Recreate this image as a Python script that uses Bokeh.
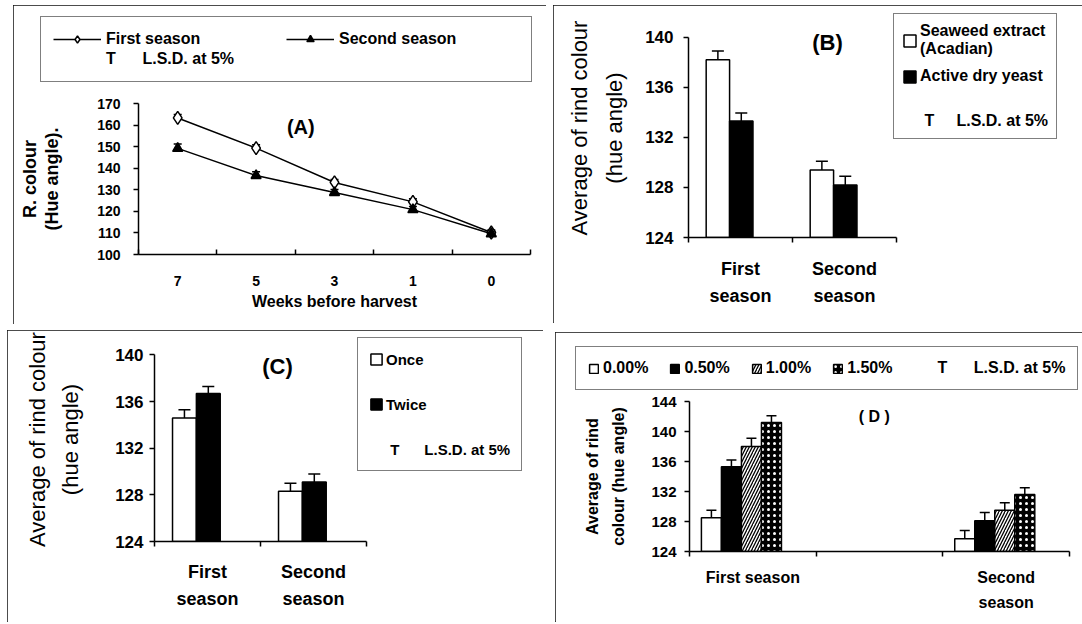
from bokeh.plotting import figure
from bokeh.models import (ColumnDataSource, FixedTicker, Legend, LegendItem, Label,
                          Whisker, TeeHead, Range1d)
from bokeh.embed import file_html
from bokeh.resources import INLINE

FONT = "Liberation Sans"
NB = "\u00a0"

# ---------------- data ----------------
# Panel A
weeks = ["7", "5", "3", "1", "0"]
hue_first_a = [163.3, 149.3, 133.4, 124.4, 110.2]
hue_second_a = [149.2, 136.6, 128.7, 120.8, 109.6]
lsd_first_a = [1.6, 1.6, 1.4, 1.4, 1.2]
lsd_second_a = [2.0, 1.8, 1.4, 1.4, 1.2]
yticks_a = [100, 110, 120, 130, 140, 150, 160, 170]

# Panel B
seasons_bc = ["First\nseason", "Second\nseason"]
seaweed_b = [138.2, 129.4]
yeast_b = [133.3, 128.2]
lsd_seaweed_b = [0.7, 0.7]
lsd_yeast_b = [0.65, 0.7]
yticks_bc = [124, 128, 132, 136, 140]

# Panel C
once_c = [134.6, 128.3]
twice_c = [136.7, 129.1]
lsd_once_c = [0.7, 0.7]
lsd_twice_c = [0.6, 0.7]

# Panel D
slots_d = ["First season", "", "Second\nseason"]
groups_d = ["First season", "Second\nseason"]
conc_d = ["0.00%", "0.50%", "1.00%", "1.50%"]
first_d = [128.5, 135.3, 138.0, 141.2]
second_d = [125.7, 128.1, 129.5, 131.6]
lsd_first_d = [1.0, 0.9, 1.1, 0.9]
lsd_second_d = [1.1, 1.1, 1.0, 0.9]
yticks_d = [124, 128, 132, 136, 140, 144]

LSD_TEXT = "L.S.D. at 5%"

# legend-key renderers live in transparent overlay figures; their single
# point sits outside the overlay's visible range so only the key is seen
OFF = -10


# ---------------- helpers ----------------
def base_fig(w, h, xr, yr, borders, pos):
    l, r, t, b = borders
    p = figure(width=w, height=h, x_range=Range1d(*xr), y_range=Range1d(*yr),
               output_backend="svg", toolbar_location=None,
               min_border_left=l, min_border_right=r,
               min_border_top=t, min_border_bottom=b)
    p.grid.visible = False
    p.outline_line_color = None
    p.background_fill_color = "white"
    p.border_fill_color = "white"
    p.styles = {"position": "absolute", "left": f"{pos[0]}px", "top": f"{pos[1]}px",
                "outline": "1.5px solid #111", "outline-offset": "-1.5px"}
    return p


def overlay_fig(w, h, pos):
    p = figure(width=w, height=h, x_range=Range1d(0, 1), y_range=Range1d(0, 1),
               output_backend="svg", toolbar_location=None,
               x_axis_type=None, y_axis_type=None, min_border=0)
    p.grid.visible = False
    p.outline_line_color = None
    p.background_fill_alpha = 0
    p.border_fill_alpha = 0
    p.styles = {"position": "absolute", "left": f"{pos[0]}px", "top": f"{pos[1]}px"}
    return p


def style_y(p, ticks, size, standoff, label, lab_size, lab_bold, lab_lh, lab_standoff):
    ax = p.yaxis[0]
    ax.ticker = FixedTicker(ticks=ticks)
    ax.bounds = (ticks[0], ticks[-1])
    ax.major_tick_in = 0
    ax.major_tick_out = 5
    ax.major_tick_line_width = 1.5
    ax.minor_tick_line_color = None
    ax.axis_line_width = 1.5
    ax.major_label_text_font = FONT
    ax.major_label_text_font_size = f"{size}px"
    ax.major_label_text_font_style = "bold"
    ax.major_label_text_color = "black"
    ax.major_label_standoff = standoff
    ax.axis_label = label
    ax.axis_label_text_font = FONT
    ax.axis_label_text_font_size = f"{lab_size}px"
    ax.axis_label_text_font_style = "bold" if lab_bold else "normal"
    ax.axis_label_text_line_height = lab_lh
    ax.axis_label_standoff = lab_standoff
    ax.axis_label_text_color = "black"


def style_x(p, labels, size, lh, standoff, tick_in, tick_out, title=None, title_size=16, title_standoff=4):
    ax = p.xaxis[0]
    n = len(labels)
    ax.ticker = FixedTicker(ticks=list(range(n)), minor_ticks=[i - 0.5 for i in range(n + 1)])
    ax.major_label_overrides = {i: lab for i, lab in enumerate(labels)}
    ax.major_tick_line_color = None
    ax.major_tick_in = 0
    ax.major_tick_out = 0
    ax.minor_tick_in = tick_in
    ax.minor_tick_out = tick_out
    ax.minor_tick_line_width = 1.5
    ax.axis_line_width = 1.5
    ax.major_label_text_font = FONT
    ax.major_label_text_font_size = f"{size}px"
    ax.major_label_text_font_style = "bold"
    ax.major_label_text_color = "black"
    ax.major_label_text_line_height = lh
    ax.major_label_standoff = standoff
    if title:
        ax.axis_label = title
        ax.axis_label_text_font = FONT
        ax.axis_label_text_font_size = f"{title_size}px"
        ax.axis_label_text_font_style = "bold"
        ax.axis_label_text_color = "black"
        ax.axis_label_standoff = title_standoff


def bar_style(fill, hatch=None, hatch_color="black", hatch_scale=6, hatch_weight=1.5):
    kw = dict(fill_color=fill, line_color="black", line_width=1.5)
    if hatch:
        kw.update(hatch_pattern=hatch, hatch_color=hatch_color,
                  hatch_scale=hatch_scale, hatch_weight=hatch_weight)
    return kw


def add_bars(p, xs, tops, width, bottom, style):
    src = ColumnDataSource(dict(x=xs, top=tops))
    return p.vbar(x="x", top="top", bottom=bottom, width=width, source=src, **style)


def key_bar(p, style):
    return p.vbar(x=[OFF], top=[OFF], bottom=OFF - 1, width=0.1, **style)


def key_line(p, style):
    return p.line(x=[OFF, OFF + 1], y=[OFF, OFF], **style)


def key_marker(p, style):
    return p.scatter(x=[OFF], y=[OFF], **style)


def key_blank(p):
    return p.scatter(x=[OFF], y=[OFF], alpha=0)


def add_lsd(p, xs, tops, lsd, size):
    src = ColumnDataSource(dict(x=xs, lo=tops, hi=[t + d for t, d in zip(tops, lsd)]))
    w = Whisker(base="x", lower="lo", upper="hi", source=src, line_color="black",
                line_width=1.5, level="underlay",
                upper_head=TeeHead(size=size, line_color="black", line_width=1.5),
                lower_head=None)
    p.add_layout(w)


def add_title(p, x, y, text, size):
    p.add_layout(Label(x=x, y=y, text=text, text_font=FONT, text_font_size=f"{size}px",
                       text_font_style="bold", text_align="center",
                       text_baseline="middle", text_color="black"))


def style_legend(lg, size):
    lg.label_text_font = FONT
    lg.label_text_font_size = f"{size}px"
    lg.label_text_font_style = "bold"
    lg.label_text_color = "black"
    lg.border_line_color = "black"
    lg.border_line_width = 1.5
    lg.background_fill_color = "white"
    lg.background_fill_alpha = 1.0
    lg.margin = 0


# ---------------- Panel A ----------------
A_POS, A_W, A_H = (13, 5), 533, 319
pa = base_fig(A_W, A_H, (-0.5, len(weeks) - 0.5), (100, 170), (125, 16, 98, 70), A_POS)
xa = list(range(len(weeks)))
add_lsd(pa, xa, hue_first_a, lsd_first_a, 8)
add_lsd(pa, xa, hue_second_a, lsd_second_a, 8)
line_a = dict(line_color="black", line_width=1.5)
diam_a = dict(marker="diamond", size=13, fill_color="white", line_color="black", line_width=1.5)
tri_a = dict(marker="triangle", size=10, fill_color="black", line_color="black", line_width=1.5)
pa.line(xa, hue_first_a, **line_a)
pa.scatter(xa, hue_first_a, **diam_a)
pa.line(xa, hue_second_a, **line_a)
pa.scatter(xa, hue_second_a, **tri_a)
style_y(pa, yticks_a, 14, 13, "R. colour\n(Hue angle).", 18, True, 1.1, 32)
style_x(pa, weeks, 14, 1.2, 21, 5, 0, title="Weeks before harvest", title_size=16, title_standoff=4)
add_title(pa, 1.57, 159, "(A)", 20)

oa = overlay_fig(A_W, A_H, A_POS)
lg_a = Legend(items=[LegendItem(label="First season", renderers=[key_line(oa, line_a), key_marker(oa, diam_a)]),
                     LegendItem(label="Second season", renderers=[key_line(oa, line_a), key_marker(oa, tri_a)]),
                     LegendItem(label="T" + NB * 6 + LSD_TEXT, renderers=[key_blank(oa)])],
              orientation="horizontal", ncols=2, location=(27, 242),
              glyph_width=48, glyph_height=18, label_height=20, label_width=180,
              label_standoff=5, spacing=0, padding=12)
style_legend(lg_a, 16)
oa.add_layout(lg_a)

# ---------------- Panel B ----------------
bw = 0.225
shift = -0.105
xs_b = list(range(len(seasons_bc)))
xb1 = [i + shift - bw / 2 for i in xs_b]
xb2 = [i + shift + bw / 2 for i in xs_b]
white_s = bar_style("white")
black_s = bar_style("black")

B_POS, B_W, B_H = (553, 5), 529, 318
pb = base_fig(B_W, B_H, (-0.5, len(seasons_bc) - 0.5), (124, 141.5), (135, 186, 13, 86), B_POS)
add_bars(pb, xb1, seaweed_b, bw, 124, white_s)
add_bars(pb, xb2, yeast_b, bw, 124, black_s)
add_lsd(pb, xb1, seaweed_b, lsd_seaweed_b, 12)
add_lsd(pb, xb2, yeast_b, lsd_yeast_b, 12)
style_y(pb, yticks_bc, 17, 10, "Average of rind colour\n(hue angle)", 22, False, 1.4, 15)
style_x(pb, seasons_bc, 18, 1.35, 16, 0, 5)
add_title(pb, 0.837, 139.6, "(B)", 22)

ob = overlay_fig(B_W, B_H, B_POS)
lg_b = Legend(items=[LegendItem(label="Seaweed extract\n(Acadian)", renderers=[key_bar(ob, white_s)]),
                     LegendItem(label="Active dry yeast", renderers=[key_bar(ob, black_s)]),
                     LegendItem(label=NB + "\n" + NB + "T" + NB * 5 + LSD_TEXT,
                                renderers=[key_blank(ob)])],
              orientation="vertical", location=(340, 184),
              glyph_width=15, glyph_height=15, label_standoff=3, spacing=9, padding=8)
style_legend(lg_b, 16)
ob.add_layout(lg_b)

# ---------------- Panel C ----------------
C_POS, C_W, C_H = (7, 330), 536, 292
pc = base_fig(C_W, C_H, (-0.5, len(seasons_bc) - 0.5), (124, 141.5), (147, 177, 7, 81), C_POS)
add_bars(pc, xb1, once_c, bw, 124, white_s)
add_bars(pc, xb2, twice_c, bw, 124, black_s)
add_lsd(pc, xb1, once_c, lsd_once_c, 12)
add_lsd(pc, xb2, twice_c, lsd_twice_c, 12)
style_y(pc, yticks_bc, 17, 6, "Average of rind colour\n(hue angle)", 22, False, 1.32, 29)
style_x(pc, seasons_bc, 18, 1.35, 15, 0, 5)
add_title(pc, 0.66, 139.0, "(C)", 22)

oc = overlay_fig(C_W, C_H, C_POS)
lg_c = Legend(items=[LegendItem(label="Once", renderers=[key_bar(oc, white_s)]),
                     LegendItem(label="Twice", renderers=[key_bar(oc, black_s)]),
                     LegendItem(label=NB + "T" + NB * 6 + LSD_TEXT, renderers=[key_blank(oc)])],
              orientation="vertical", location=(350, 151),
              glyph_width=14, glyph_height=14, label_height=20, label_standoff=3,
              spacing=25, padding=11)
style_legend(lg_c, 15)
oc.add_layout(lg_c)

# ---------------- Panel D ----------------
dw = 0.158
dshift = -0.09
D_POS, D_W, D_H = (555, 332), 527, 290
pd_ = base_fig(D_W, D_H, (-0.5, len(slots_d) - 0.5), (124, 144), (134, 13, 69, 71), D_POS)
slot_pos = [slots_d.index(g) for g in groups_d]
d_styles = [bar_style("white"),
            bar_style("black"),
            bar_style("white", "/", "black", 6, 1.3),
            bar_style("black", "dot", "white", 6, 2.2)]
for k in range(len(conc_d)):
    xs = [s + dshift + (k - 1.5) * dw for s in slot_pos]
    tops = [first_d[k], second_d[k]]
    lsds = [lsd_first_d[k], lsd_second_d[k]]
    add_bars(pd_, xs, tops, dw, 124, d_styles[k])
    add_lsd(pd_, xs, tops, lsds, 10)
style_y(pd_, yticks_d, 15, 8, "Average of rind\ncolour (hue angle)", 16, True, 1.55, 21)
style_x(pd_, slots_d, 16, 1.5, 12, 0, 5)
add_title(pd_, 0.958, 142, "( D )", 16)

od = overlay_fig(D_W, D_H, D_POS)
lg_d = Legend(items=[LegendItem(label=c, renderers=[key_bar(od, s)]) for c, s in zip(conc_d, d_styles)] +
              [LegendItem(label=NB * 2 + "T" + NB * 6 + LSD_TEXT, renderers=[key_blank(od)])],
              orientation="horizontal", location=(20, 232),
              glyph_width=11, glyph_height=11, label_standoff=4, spacing=21, padding=12)
style_legend(lg_d, 16)
od.add_layout(lg_d)

open("out.html", "w").write(file_html([pa, pb, pc, pd_, oa, ob, oc, od], INLINE))
